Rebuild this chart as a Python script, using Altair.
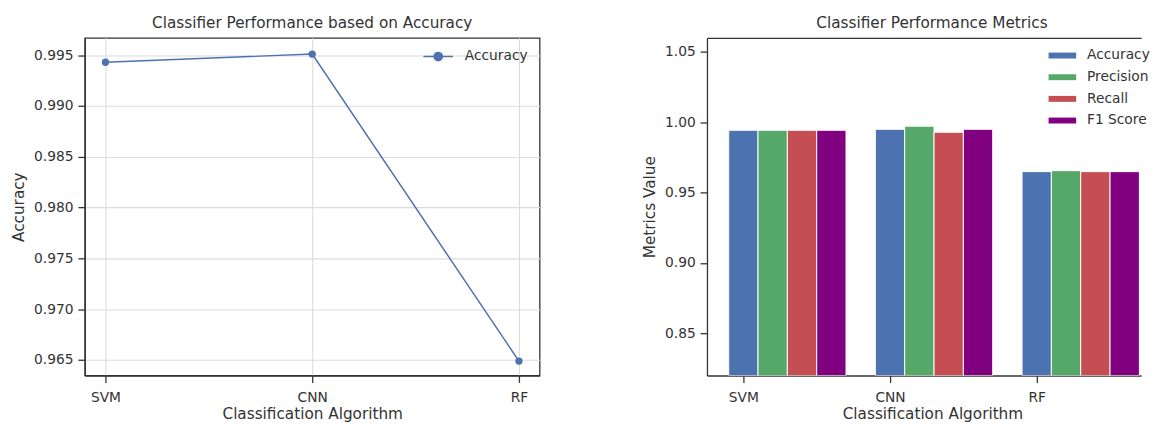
import altair as alt
import pandas as pd

# ---- data ----
algorithms = ["SVM", "CNN", "RF"]
line_accuracy = [0.9943, 0.9951, 0.9649]

metrics = ["Accuracy", "Precision", "Recall", "F1 Score"]
bar_accuracy = [0.9943, 0.9950, 0.9649]
bar_precision = [0.9943, 0.9972, 0.9656]
bar_recall = [0.9943, 0.9929, 0.9649]
bar_f1 = [0.9943, 0.9950, 0.9649]

metric_colors = ["#4C72B0", "#55A868", "#C44E52", "#800080"]
line_color = "#4C72B0"

FONT = "DejaVu Sans"
TXT = "#333333"
SPINE = "#333333"

# ---- tables ----
line_df = pd.DataFrame({"Algorithm": algorithms, "Accuracy": line_accuracy, "series": "Accuracy"})

rows = []
for j, (m, vals) in enumerate(zip(metrics, [bar_accuracy, bar_precision, bar_recall, bar_f1])):
    for i, a in enumerate(algorithms):
        rows.append({"Algorithm": a, "Metric": m, "Value": vals[i], "ai": i, "mi": j})
bar_df = pd.DataFrame(rows)
bar_df["x0"] = bar_df["ai"] + 0.2 * bar_df["mi"] - 0.1
bar_df["x1"] = bar_df["ai"] + 0.2 * bar_df["mi"] + 0.1

line_sym = "M-2.14,0H2.14M-0.6,0A0.6,0.6,0,1,1,0.6,0A0.6,0.6,0,1,1,-0.6,0Z"
rect_sym = "M-2,-0.43H2V0.43H-2Z"

# ---- left: line chart ----
left = alt.Chart(line_df).mark_line(
    strokeWidth=1.5,
    point=alt.OverlayMarkDef(size=55, filled=True, opacity=1),
).encode(
    x=alt.X("Algorithm:N", sort=algorithms,
            scale=alt.Scale(type="point", padding=0.1),
            axis=alt.Axis(title="Classification Algorithm", labelAngle=0, grid=True)),
    y=alt.Y("Accuracy:Q",
            scale=alt.Scale(domain=[0.96348, 0.9967], nice=False, zero=False),
            axis=alt.Axis(title="Accuracy", values=[0.965, 0.970, 0.975, 0.980, 0.985, 0.990, 0.995],
                          format=".3f", grid=True)),
    color=alt.Color("series:N", scale=alt.Scale(range=[line_color]),
                    legend=alt.Legend(title=None, orient="none", legendX=351, legendY=11,
                                      symbolType=line_sym, symbolSize=196,
                                      symbolStrokeWidth=1.5, symbolStrokeColor=line_color,
                                      symbolFillColor=line_color, labelOffset=19)),
).properties(
    width=462, height=343,
    title=alt.TitleParams("Classifier Performance based on Accuracy", offset=6),
    view=alt.ViewBackground(stroke=SPINE, strokeWidth=1.3),
)

# ---- right: grouped bars ----
label_expr = "[" + ",".join("'%s'" % a for a in algorithms) + "][datum.value]"
x_scale = alt.Scale(domain=[-0.248, 2.712], nice=False, zero=False)

bars = alt.Chart(bar_df).mark_bar(stroke="white", strokeWidth=1, clip=True).encode(
    x=alt.X("x0:Q", scale=x_scale,
            axis=alt.Axis(title="Classification Algorithm", values=[0, 1, 2],
                          labelExpr=label_expr, grid=False, titleX=229, titleAlign="center")),
    x2="x1:Q",
    y=alt.Y("Value:Q",
            scale=alt.Scale(domain=[0.82, 1.06], nice=False, zero=False),
            axis=alt.Axis(title="Metrics Value", values=[0.85, 0.90, 0.95, 1.00, 1.05],
                          format=".2f", grid=False)),
    y2=alt.Y2(datum=0.82),
    color=alt.Color("Metric:N", sort=metrics,
                    scale=alt.Scale(domain=metrics, range=metric_colors),
                    legend=alt.Legend(title=None, orient="none", legendX=354, legendY=11,
                                      symbolType=rect_sym, symbolSize=196,
                                      symbolStrokeWidth=0, rowPadding=8, labelOffset=18)),
)

top_spine = alt.Chart(bar_df).mark_bar(opacity=0).encode(
    x=alt.X("x0:Q", scale=x_scale,
            axis=alt.Axis(orient="top", labels=False, ticks=False, title=None, grid=False,
                          domain=True)),
    x2="x1:Q",
)

right = alt.layer(bars, top_spine).resolve_axis(x="independent").properties(
    width=441, height=343,
    title=alt.TitleParams("Classifier Performance Metrics", offset=6, dx=8),
)

chart = alt.hconcat(left, right, spacing=103).resolve_scale(color="independent").properties(
    padding={"left": 3, "top": 4, "right": 0, "bottom": 0},
).configure(
    font=FONT,
).configure_view(
    strokeWidth=0,
).configure_axis(
    labelFont=FONT, titleFont=FONT, labelFontSize=14, titleFontSize=15.5,
    labelColor=TXT, titleColor=TXT, titleFontWeight="normal",
    domainColor=SPINE, domainWidth=1.3,
    tickColor=SPINE, tickWidth=1.3, tickSize=7,
    gridColor="#dcdcdc", gridWidth=1.1,
    labelPadding=5, titlePadding=7,
).configure_axisX(
    labelPadding=8, titlePadding=3,
).configure_title(
    font=FONT, fontSize=15.5, fontWeight="normal", color=TXT, anchor="middle",
).configure_legend(
    labelFont=FONT, labelFontSize=14, labelColor=TXT,
)

chart.save("out.html", embed_options={"renderer": "svg", "actions": False})
